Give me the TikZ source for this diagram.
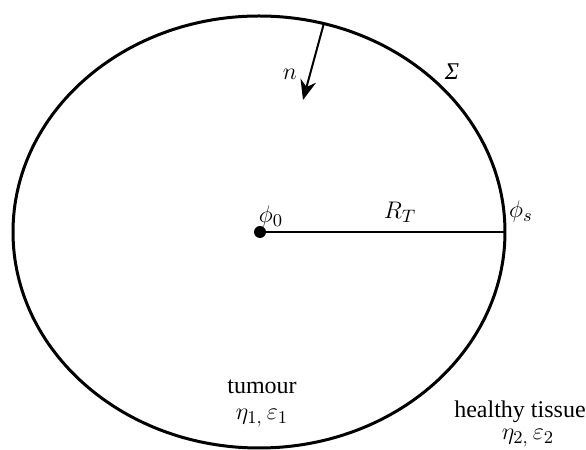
\documentclass[tikz,border=0pt]{standalone}
\usepackage{fontspec}
\setmainfont{Liberation Serif}
\usepackage{amsmath}
\usetikzlibrary{arrows.meta}

\begin{document}
\begin{tikzpicture}[x=0.5pt, y=0.5pt]
      \tikzstyle{boundary}=[line width=1.5pt, black]
      \tikzstyle{dot}=[circle, fill=black, inner sep=0pt, minimum size=6pt]
      \tikzstyle{connect}=[-{Stealth[length=10pt, width=8pt]}, line width=1pt]
      \tikzstyle{radius}=[line width=1.4pt]
      \tikzstyle{lbl}=[inner sep=1pt, font=\fontsize{12}{14}\selectfont];
      \tikzstyle{mlbl}=[inner sep=1pt, font=\fontsize{13}{15}\selectfont];

      \useasboundingbox (0,0) rectangle (586,450);
      \draw[boundary] (259,218) ellipse [x radius=246, y radius=216];

      \node[dot] (centre) at (260,218) {};
      \coordinate (surf) at (505,218);
      \coordinate (ntail) at (324,427);
      \coordinate (nhead) at (303,350);

      \draw[radius] (centre) -- (surf);
      \draw[connect] (ntail) -- (nhead);

      \node[mlbl] (n) at (290,376) {$n$};
      \node[lbl] (sigma) at (452,378) {\itshape Σ};
      \node[mlbl] (phi0) at (271,233) {$\phi_0$};
      \node[mlbl] (RT) at (400,238) {$R_T$};
      \node[mlbl] (phis) at (521,238) {$\phi_s$};
      \node[lbl] (tumour) at (262,63) {tumour};
      \node[mlbl] (tprops) at (262,32) {$\eta_{1,}\,\varepsilon_1$};
      \node[lbl] (healthy) at (520,38) {healthy tissue};
      \node[mlbl] (hprops) at (528,12) {$\eta_{2,}\,\varepsilon_2$};
\end{tikzpicture}
\end{document}
